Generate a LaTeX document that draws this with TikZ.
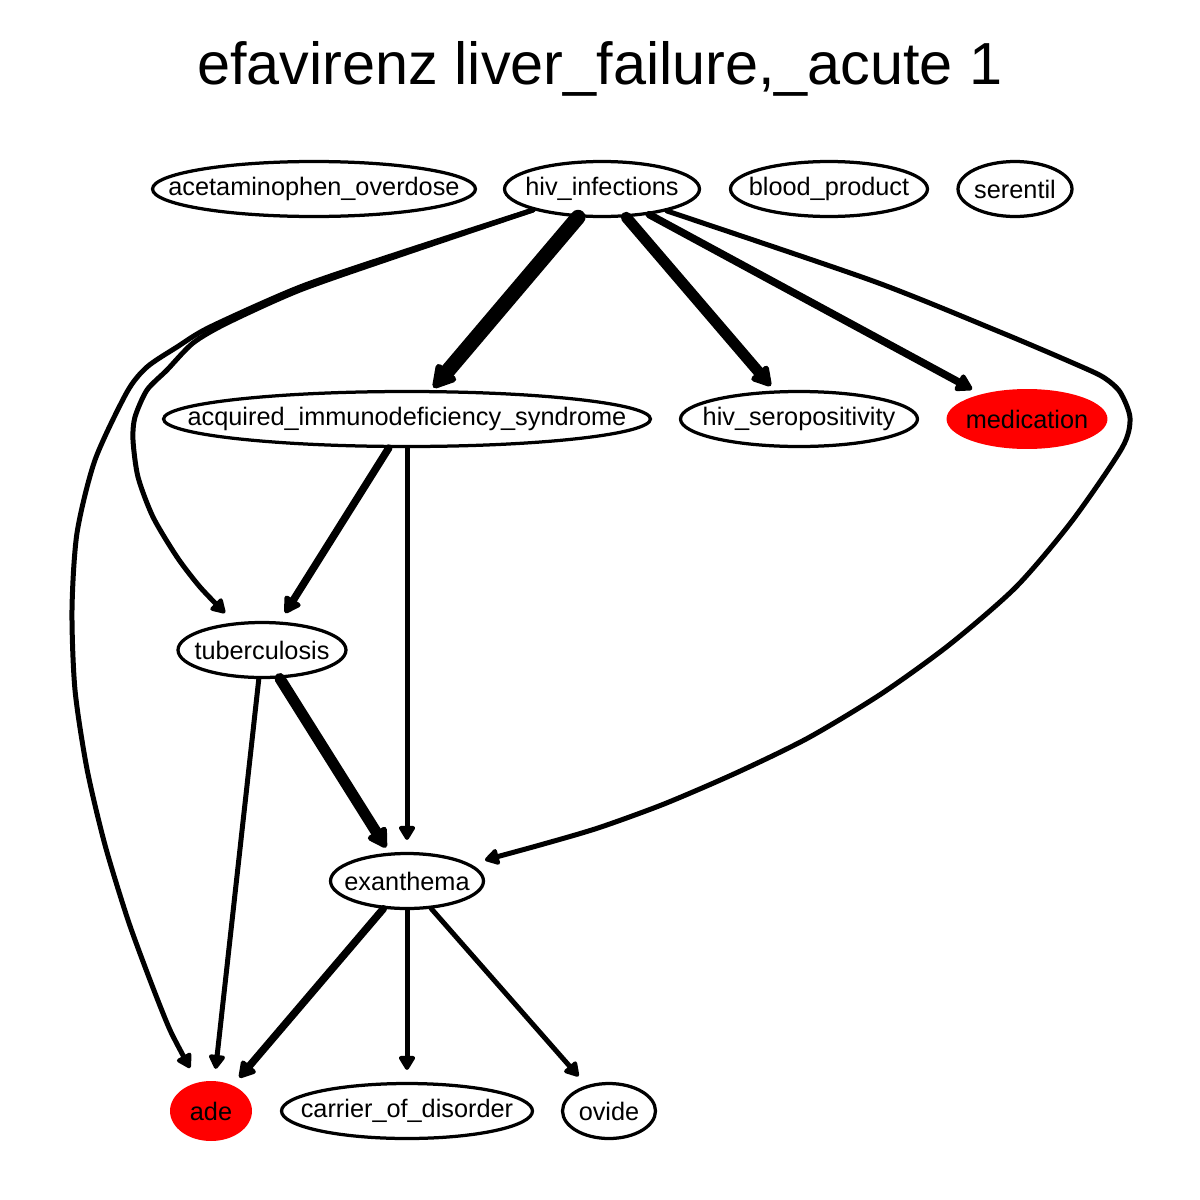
\documentclass[tikz,border=0pt]{standalone}
\usepackage{fontspec}
\setmainfont{Liberation Sans}
\usetikzlibrary{arrows.meta,shapes.geometric,calc}

\tikzset{
  lbl/.style={font=\fontsize{14.4}{17}\selectfont},
  gnode/.style={lbl, ellipse, draw, line width=0.065cm, inner sep=0pt, minimum height=1.1cm},
  rnode/.style={lbl, ellipse, fill=red, draw=none, inner sep=0pt, minimum height=1.2cm},
  edge/.style={line cap=round, line join=round,
    -{Triangle[length=0.22cm 1, width=0.26cm 1, round]}},
  thin/.style={edge, line width=0.1cm, shorten >=0.24cm},
  mid/.style={edge, line width=0.15cm, shorten >=0.2cm},
  thick/.style={edge, line width=0.22cm, shorten >=0.12cm},
  heavy/.style={edge, line width=0.3cm, shorten >=0.06cm},
  curved/.style={edge, line width=0.1cm},
}

\begin{document}
\begin{tikzpicture}[x=0.02cm, y=-0.02cm]
  \useasboundingbox[fill=white] (0,0) rectangle (1200,1200);

  % title
  \node[anchor=base, font=\fontsize{33.8}{40}\selectfont] (title) at (600,84)
    {efavirenz liver\_failure,\_acute 1};

  % top row
  \node[gnode, minimum width=6.46cm] (acet) at (314,189) {\makebox[0pt]{acetaminophen\_overdose}};
  \node[gnode, minimum width=3.90cm] (hiv) at (602,189) {\makebox[0pt]{hiv\_infections}};
  \node[gnode, minimum width=3.94cm] (blood) at (829,189) {\makebox[0pt]{blood\_product}};
  \node[gnode, minimum width=2.28cm] (ser) at (1015,189) {\makebox[0pt]{serentil}};

  % second row
  \node[gnode, minimum width=9.74cm] (aids) at (407,419) {\makebox[0pt]{acquired\_immunodeficiency\_syndrome}};
  \node[gnode, minimum width=4.74cm] (sero) at (799,419) {\makebox[0pt]{hiv\_seropositivity}};
  \node[rnode, minimum width=3.22cm] (med) at (1027,419) {\makebox[0pt]{medication}};

  % middle
  \node[gnode, minimum width=3.36cm] (tub) at (262,650) {\makebox[0pt]{tuberculosis}};
  \node[gnode, minimum width=3.06cm] (exan) at (407,881) {\makebox[0pt]{exanthema}};

  % bottom row
  \node[rnode, minimum width=1.64cm] (ade) at (211,1111) {\makebox[0pt]{ade}};
  \node[gnode, minimum width=5.02cm] (carr) at (407,1111) {\makebox[0pt]{carrier\_of\_disorder}};
  \node[gnode, minimum width=1.86cm] (ovide) at (609,1111) {\makebox[0pt]{ovide}};

  % straight edges
  \draw[heavy] (hiv) -- (aids);
  \draw[thick] (hiv) -- (sero);
  \draw[mid]   (hiv) -- (med);
  \draw[mid]   (aids) -- (tub);
  \draw[thin]  (aids) -- (exan);
  \draw[thick] (tub) -- (exan);
  \draw[thin]  (tub) -- (ade);
  \draw[mid]   (exan) -- (ade);
  \draw[thin]  (exan) -- (carr);
  \draw[thin]  (exan) -- (ovide);

  % ends of the routed edges
  \coordinate (hivL) at ($(hiv.center)+(-69,21)$);
  \coordinate (hivR) at ($(hiv.center)+(65,22)$);
  \coordinate (adeIn) at ($(ade.center)+(-21,-43)$);
  \coordinate (tubIn) at ($(tub.center)+(-37,-37)$);
  \coordinate (exanIn) at ($(exan.center)+(78,-21)$);

  % hiv_infections -> ade (outer left route)
  \draw[curved] plot[smooth, tension=0.45] coordinates {
    (hivL) (400,253) (300,287) (210,327) (177,347) (147,367) (127,392)
    (95,460) (77,533) (72,610) (75,690) (87,769) (105,845) (128,920)
    (150,980) (170,1030) (adeIn)};

  % hiv_infections -> tuberculosis (inner left route)
  \draw[curved] plot[smooth, tension=0.45] coordinates {
    (hivL) (400,255) (300,290) (227,323) (193,343) (167,370) (147,390)
    (135,417) (133,440) (138,477) (153,517) (177,557) (200,587) (tubIn)};

  % hiv_infections -> exanthema (right route)
  \draw[curved] plot[smooth, tension=0.45] coordinates {
    (hivR) (873,281) (1000,332) (1073,363) (1103,377) (1120,392)
    (1130,418) (1122,448) (1072,521) (1016,587) (949,645) (881,694)
    (808,738) (736,773) (664,804) (598,828) (540,845) (exanIn)};
\end{tikzpicture}
\end{document}
